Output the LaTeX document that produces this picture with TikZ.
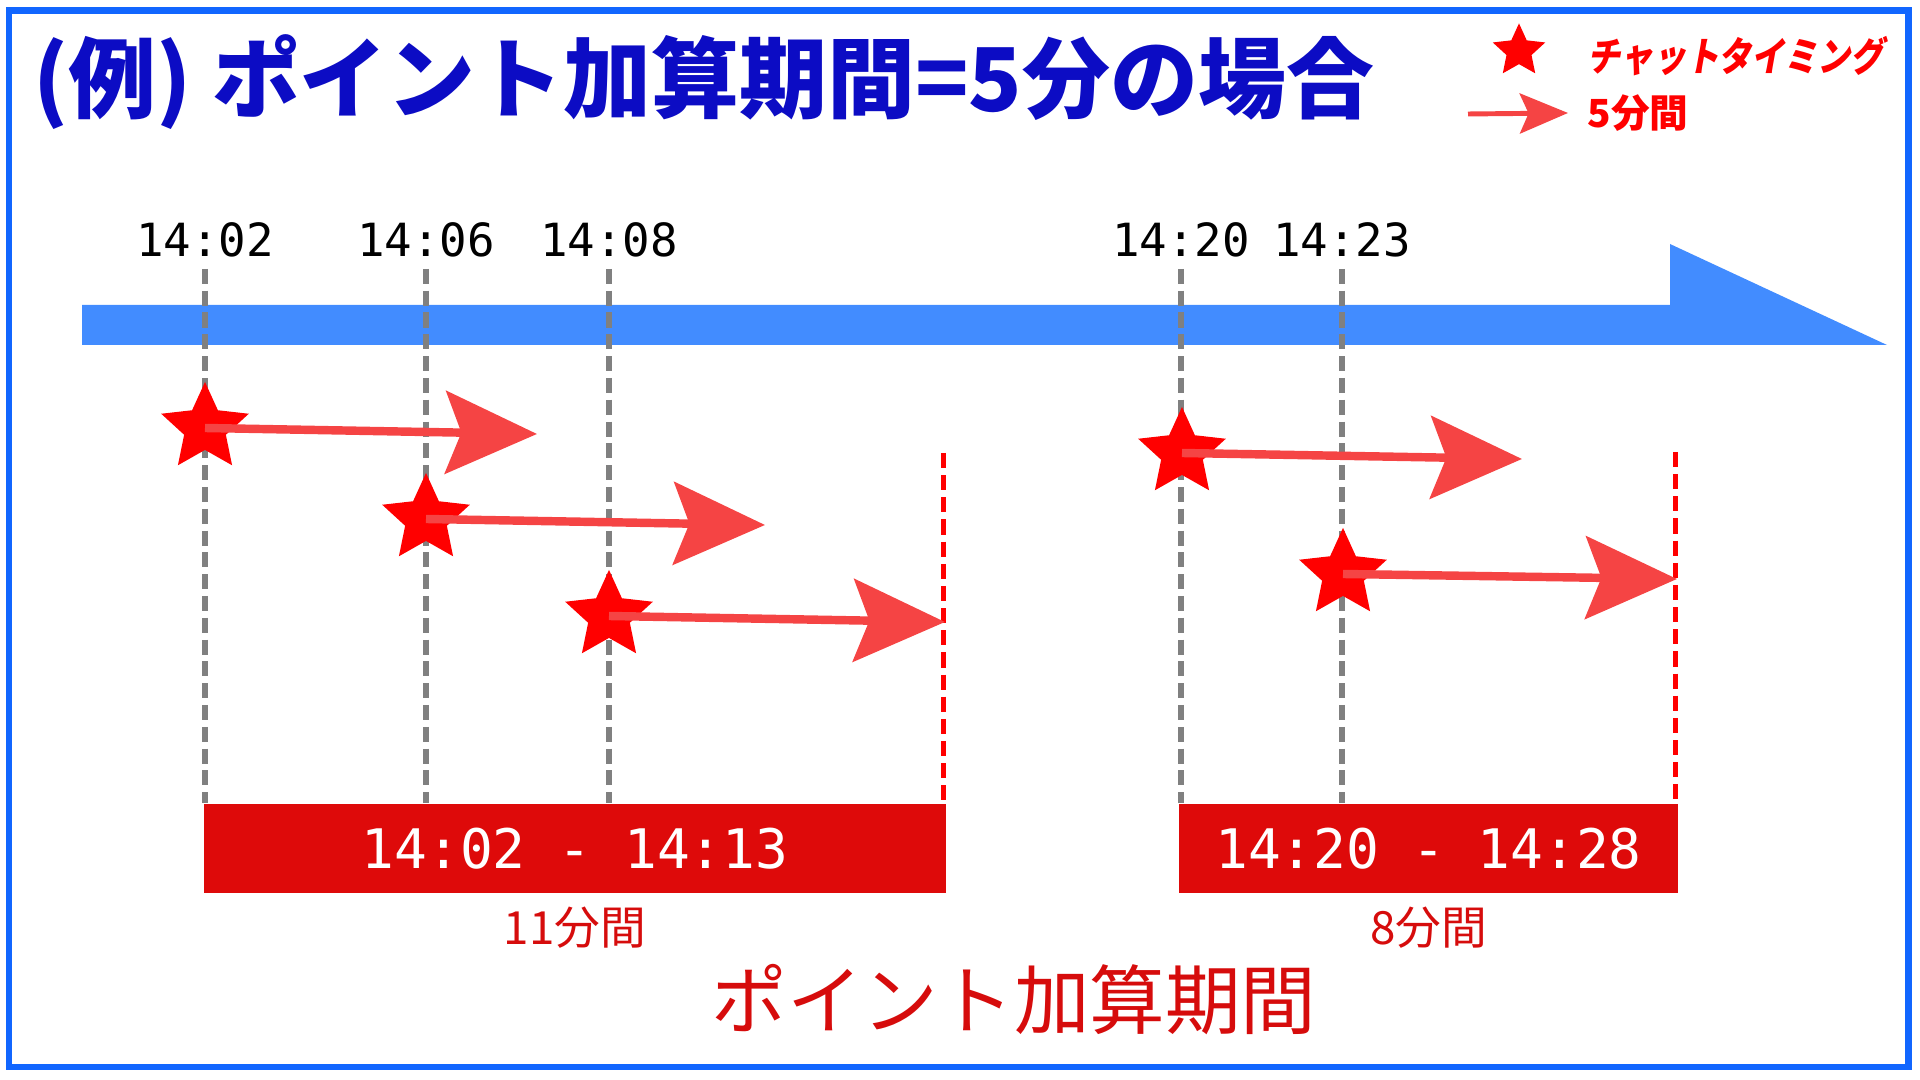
\documentclass[tikz,border=0pt]{standalone}
\usepackage{fontspec}
\usepackage{graphicx}
\usepackage{tikz}
\usetikzlibrary{arrows.meta,positioning,shapes.geometric}
\newfontfamily\jpfont{Noto Sans CJK JP}
\newfontfamily\jpslant{Noto Sans CJK JP}[FakeSlant=0.18,FakeStretch=0.82]
\setmonofont{DejaVu Sans Mono}
\definecolor{frameblue}{RGB}{17,102,255}
\definecolor{titleblue}{RGB}{12,12,196}
\definecolor{barblue}{RGB}{66,140,255}
\definecolor{starred}{RGB}{255,0,0}
\definecolor{arrowred}{RGB}{245,68,68}
\definecolor{boxred}{RGB}{222,10,10}
\definecolor{labelred}{RGB}{214,12,12}
\definecolor{guidegray}{RGB}{128,128,128}

\begin{document}
\begin{tikzpicture}[x=0.01cm,y=-0.01cm,
  chatstar/.style={star,star points=5,star point ratio=2.1,fill=starred,draw=none,inner sep=0pt,minimum size=26.2pt},
  fivemin/.style={draw=arrowred,line width=2.4pt,-{Stealth[length=26pt,width=23.5pt,inset=4.5pt]}},
  timelbl/.style={anchor=base,inner sep=0pt,font=\ttfamily\fontsize{13}{13}\selectfont},
  tick/.style={draw=guidegray,line width=1.6pt,dash pattern=on 4.3pt off 1.9pt},
  endline/.style={draw=starred,line width=1.4pt,dash pattern=on 4.3pt off 2pt},
  periodbox/.style={fill=boxred,text=white,inner sep=0pt,minimum height=25.3pt,font=\ttfamily\fontsize{15.5}{15.5}\selectfont},
  minlbl/.style={inner sep=0pt,text=labelred,font=\jpfont\fontsize{13}{13}\selectfont}]
\path[use as bounding box] (0,0) rectangle (1920,1080);
\draw[frameblue,line width=1.9pt] (9,10.5) rectangle (1908.5,1067);
\node[anchor=base west,inner sep=0pt,text=titleblue,font=\jpfont\bfseries\fontsize{25}{25}\selectfont] (title) at (33,112) {(例) ポイント加算期間=5分の場合};
\node[chatstar,minimum size=15.7pt] (ls) at (1519,51) {};
\node[anchor=west,inner sep=0pt,text=starred,font=\jpslant\bfseries\fontsize{11.4}{11.4}\selectfont] (lt1) at (1587,56) {チャットタイミング};
\coordinate (la0) at (1468,114);
\coordinate (la1) at (1568,113);
\draw[draw=arrowred,line width=1.4pt,-{Stealth[length=13.7pt,width=11.4pt,inset=2.5pt]}] (la0) -- (la1);
\node[anchor=west,inner sep=0pt,text=starred,font=\jpfont\bfseries\fontsize{11}{11}\selectfont] (lt2) at (1587,113) {5分間};
\fill[barblue] (82,305) -- (1670,305) -- (1670,244) -- (1887,345) -- (82,345) -- cycle;
\node[timelbl] (t1) at (205,257) {14:02};
\node[timelbl] (t2) at (426,257) {14:06};
\node[timelbl] (t3) at (609,257) {14:08};
\node[timelbl] (t4) at (1181,257) {14:20};
\node[timelbl] (t5) at (1342,257) {14:23};
\node[periodbox,minimum width=211.1pt] (p1) at (575,848.5) {14:02 - 14:13};
\node[periodbox,minimum width=142pt] (p2) at (1428.5,848.5) {14:20 - 14:28};
\draw[tick] ([yshift=-3pt]t1.south) -- (t1.south |- p1.north);
\draw[tick] ([yshift=-3pt]t2.south) -- (t2.south |- p1.north);
\draw[tick] ([yshift=-3pt]t3.south) -- (t3.south |- p1.north);
\draw[tick] ([yshift=-3pt]t4.south) -- (t4.south |- p2.north);
\draw[tick] ([yshift=-3pt]t5.south) -- (t5.south |- p2.north);
\coordinate (c1) at (943.5,453);
\coordinate (c2) at (1675.5,452);
\draw[endline] (c1) -- (c1 |- p1.north);
\draw[endline] (c2) -- (c2 |- p2.north);
\node[chatstar] (s1) at (205,428) {};
\node[chatstar] (s2) at (426,519) {};
\node[chatstar] (s3) at (609,616) {};
\node[chatstar] (s4) at (1182,453) {};
\node[chatstar] (s5) at (1343,574) {};
\coordinate (e1) at (537,434);
\coordinate (e2) at (765,525);
\coordinate (e3) at (945,622);
\coordinate (e4) at (1522,459);
\coordinate (e5) at (1677,579);
\draw[fivemin] (s1.center) -- (e1);
\draw[fivemin] (s2.center) -- (e2);
\draw[fivemin] (s3.center) -- (e3);
\draw[fivemin] (s4.center) -- (e4);
\draw[fivemin] (s5.center) -- (e5);
\node[minlbl,below=3.7pt of p1] (m1) {11分間};
\node[minlbl,below=3.7pt of p2] (m2) {8分間};
\node[inner sep=0pt,text=labelred,font=\jpfont\fontsize{21.5}{21.5}\selectfont] (total) at (1014,1000) {ポイント加算期間};
\end{tikzpicture}
\end{document}
